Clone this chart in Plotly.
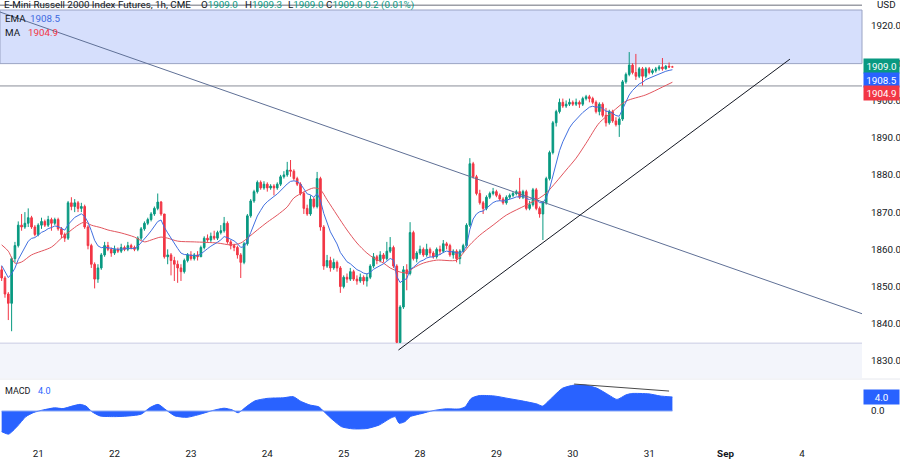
import plotly.graph_objects as go

# ---------------- data ----------------
day_ticks = [11, 34, 57, 80, 103, 126, 149, 172, 195, 218, 241]
day_labels = ['21', '22', '23', '24', '25', '28', '29', '30', '31', '<b>Sep</b>', '4']
price_ticks = [1830, 1840, 1850, 1860, 1870, 1880, 1890, 1900, 1910, 1920]

first_open = 1854.5
closes = [
    1852.3, 1848.0, 1845.5, 1857.5, 1861.0, 1866.5, 1866.0, 1867.0, 1868.5, 1866.0,
    1864.0, 1866.5, 1867.5, 1866.5, 1868.0, 1867.0, 1868.0, 1865.5, 1864.0, 1863.0,
    1872.5, 1871.5, 1872.5, 1871.0, 1871.5, 1866.0, 1861.0, 1856.0, 1852.0, 1855.0,
    1858.5, 1861.0, 1860.0, 1859.0, 1860.0, 1859.5, 1860.5, 1860.0, 1861.0, 1860.5,
    1860.0, 1863.0, 1865.5, 1867.0, 1868.0, 1869.5, 1871.0, 1872.7, 1869.5, 1858.0,
    1858.5, 1857.0, 1856.0, 1855.0, 1854.0, 1857.0, 1858.5, 1857.5, 1858.5, 1858.0,
    1860.5, 1863.0, 1862.5, 1863.5, 1863.0, 1864.5, 1865.0, 1867.0, 1862.0, 1861.0,
    1860.5, 1858.5, 1856.5, 1861.5, 1869.0, 1873.0, 1875.5, 1878.0, 1876.5, 1877.5,
    1876.5, 1877.0, 1876.5, 1877.5, 1879.5, 1880.0, 1881.3, 1881.0, 1879.0, 1877.5,
    1875.0, 1871.0, 1869.5, 1873.5, 1871.5, 1879.0, 1866.0, 1855.5, 1857.0, 1855.0,
    1856.5, 1855.0, 1850.0, 1852.5, 1852.0, 1854.0, 1852.0, 1851.5, 1852.5, 1851.5,
    1852.5, 1855.5, 1858.0, 1857.0, 1858.5, 1857.5, 1859.5, 1860.5, 1855.5, 1835.0,
    1844.5, 1854.5, 1853.5, 1864.5, 1857.5, 1859.0, 1860.0, 1858.5, 1860.0, 1859.0,
    1858.0, 1860.0, 1859.5, 1861.5, 1861.0, 1858.5, 1859.5, 1857.5, 1859.5, 1861.0,
    1866.5, 1883.0, 1879.5, 1875.0, 1872.5, 1871.0, 1874.0, 1875.0, 1875.5, 1874.5,
    1873.5, 1872.5, 1874.0, 1874.5, 1875.0, 1875.5, 1874.0, 1875.5, 1871.0, 1872.0,
    1876.0, 1871.0, 1869.5, 1872.5, 1879.0, 1886.0, 1894.0, 1897.0, 1899.5, 1898.5,
    1899.0, 1899.5, 1899.0, 1899.5, 1899.0, 1900.5, 1901.0, 1900.5, 1899.5, 1897.0,
    1899.0, 1896.0, 1894.0, 1897.0, 1894.5, 1893.5, 1895.0, 1905.0, 1907.0, 1909.5,
    1907.5, 1906.5, 1908.5, 1906.5, 1908.5, 1907.5, 1908.0, 1908.5, 1909.0, 1908.5,
    1909.2, 1909.0, 1909.0,
]
highs = [
    1855.5, 1852.8, 1848.5, 1858.0, 1862.0, 1867.5, 1869.5, 1870.0, 1871.0, 1869.0,
    1866.5, 1867.0, 1868.5, 1868.0, 1869.0, 1868.5, 1868.5, 1868.5, 1866.0, 1864.5,
    1873.0, 1874.0, 1873.5, 1873.0, 1872.5, 1872.0, 1866.5, 1861.5, 1856.5, 1856.0,
    1859.0, 1862.0, 1862.0, 1860.5, 1861.0, 1860.5, 1861.5, 1861.0, 1862.0, 1861.5,
    1861.0, 1863.5, 1866.0, 1867.5, 1868.5, 1870.0, 1871.5, 1875.0, 1873.0, 1869.5,
    1860.0, 1859.0, 1858.0, 1857.0, 1856.0, 1857.5, 1859.0, 1859.5, 1859.0, 1859.5,
    1861.0, 1863.5, 1864.0, 1864.5, 1865.0, 1865.0, 1866.5, 1868.7, 1867.5, 1862.5,
    1861.5, 1861.0, 1859.0, 1862.0, 1869.5, 1873.5, 1876.0, 1878.5, 1878.5, 1878.3,
    1878.0, 1877.5, 1877.5, 1878.0, 1880.0, 1881.0, 1883.5, 1884.0, 1881.5, 1879.5,
    1878.0, 1875.5, 1872.0, 1874.5, 1874.0, 1880.8, 1879.5, 1866.5, 1858.5, 1858.0,
    1857.5, 1857.0, 1855.5, 1853.0, 1853.5, 1855.0, 1854.5, 1853.0, 1853.5, 1853.0,
    1853.5, 1856.0, 1859.0, 1858.5, 1859.5, 1859.0, 1862.0, 1863.3, 1861.0, 1856.0,
    1845.0, 1855.5, 1856.0, 1867.3, 1865.0, 1859.5, 1861.0, 1860.5, 1861.5, 1860.5,
    1859.5, 1860.5, 1861.0, 1862.5, 1862.0, 1861.5, 1860.0, 1860.0, 1860.0, 1861.5,
    1867.0, 1884.5, 1883.5, 1880.0, 1876.0, 1873.0, 1874.5, 1875.5, 1876.5, 1876.0,
    1875.0, 1874.0, 1874.5, 1875.0, 1875.5, 1876.0, 1879.2, 1876.0, 1876.0, 1873.0,
    1876.5, 1876.5, 1871.5, 1873.0, 1879.5, 1886.5, 1894.5, 1897.5, 1900.5, 1900.5,
    1900.0, 1900.5, 1900.0, 1900.5, 1900.0, 1901.0, 1901.5, 1901.5, 1901.0, 1900.0,
    1899.5, 1899.5, 1898.0, 1897.5, 1897.5, 1895.5, 1895.5, 1905.5, 1907.5, 1913.0,
    1910.0, 1912.5, 1909.0, 1909.0, 1909.0, 1909.0, 1908.5, 1909.0, 1909.5, 1911.4,
    1909.5, 1910.2, 1909.3,
]
lows = [
    1851.5, 1847.0, 1841.0, 1838.0, 1856.5, 1860.5, 1865.0, 1865.5, 1866.0, 1865.5,
    1863.5, 1863.5, 1865.5, 1866.0, 1866.0, 1865.0, 1866.5, 1865.0, 1863.0, 1862.0,
    1862.5, 1870.5, 1870.0, 1870.0, 1870.0, 1865.5, 1860.0, 1855.0, 1849.5, 1851.0,
    1854.5, 1858.0, 1859.5, 1858.0, 1858.5, 1859.0, 1859.0, 1859.5, 1859.5, 1860.0,
    1859.5, 1859.5, 1862.5, 1865.0, 1866.5, 1867.5, 1869.0, 1870.5, 1869.0, 1857.5,
    1856.0, 1853.0, 1851.5, 1851.0, 1851.5, 1853.5, 1856.5, 1857.0, 1857.0, 1857.0,
    1858.0, 1860.0, 1862.0, 1862.0, 1862.5, 1862.5, 1864.0, 1864.5, 1861.5, 1860.0,
    1859.5, 1857.5, 1852.3, 1856.0, 1861.0, 1868.5, 1872.5, 1875.0, 1876.0, 1876.0,
    1875.5, 1876.0, 1874.5, 1876.0, 1877.0, 1879.0, 1879.5, 1879.5, 1878.5, 1877.0,
    1874.5, 1869.5, 1869.0, 1869.0, 1871.0, 1871.0, 1865.0, 1854.5, 1855.0, 1854.0,
    1854.5, 1854.0, 1848.3, 1849.5, 1851.0, 1851.5, 1851.5, 1850.5, 1851.0, 1850.5,
    1850.0, 1852.0, 1855.0, 1856.0, 1856.5, 1856.5, 1857.0, 1859.0, 1855.0, 1834.8,
    1834.8, 1844.0, 1849.0, 1853.0, 1857.0, 1856.5, 1858.5, 1858.0, 1858.0, 1858.0,
    1857.5, 1857.5, 1858.5, 1859.0, 1860.0, 1858.0, 1857.5, 1856.5, 1856.0, 1859.0,
    1860.5, 1866.0, 1879.0, 1874.5, 1872.0, 1869.5, 1870.5, 1873.5, 1874.5, 1874.0,
    1873.0, 1872.0, 1872.0, 1873.5, 1874.0, 1874.5, 1873.5, 1873.5, 1870.5, 1870.5,
    1871.5, 1870.5, 1868.5, 1862.5, 1872.0, 1878.5, 1885.5, 1893.0, 1896.5, 1898.0,
    1898.0, 1898.5, 1898.5, 1898.5, 1898.0, 1898.5, 1900.0, 1899.5, 1899.0, 1896.5,
    1896.0, 1895.5, 1893.0, 1893.5, 1894.0, 1893.0, 1890.2, 1894.5, 1904.5, 1906.5,
    1907.0, 1905.5, 1906.0, 1904.0, 1906.0, 1907.0, 1907.0, 1907.5, 1908.0, 1908.0,
    1908.3, 1908.7, 1909.0,
]

ema_len = 9
ema_seed = 1856.5
ema_label = 1908.5      # values printed by the chart's legend
ma_label = 1904.9
macd_label = 4.0
change_label = '0.2 (0.01%)'

# moving average (red) at bar positions
ma_bar = [0, 2, 4, 6, 9, 15, 18, 23, 25, 27, 30, 32, 36, 40, 43, 45, 48, 50, 53, 58,
          65, 69, 72, 74, 77, 80, 83, 86, 88, 91, 94, 96, 98, 101, 104, 107, 110, 112,
          115, 117, 120, 122, 124, 127, 131, 137, 139, 141, 144, 148, 152, 158, 162,
          164, 167, 170, 173, 176, 180, 184, 188, 194, 199, 202]
ma_val = [1861.2, 1859.5, 1856.3, 1856.6, 1858.5, 1860.6, 1863.0, 1866.5, 1867.3, 1866.5,
          1865.8, 1865.2, 1864.4, 1863.3, 1862.0, 1862.5, 1863.3, 1863.0, 1862.2, 1862.0,
          1861.7, 1861.2, 1861.7, 1863.0, 1865.2, 1867.3, 1869.2, 1871.4, 1873.8, 1875.4,
          1876.5, 1876.0, 1873.3, 1869.2, 1865.2, 1861.7, 1859.0, 1857.7, 1856.3, 1855.0,
          1853.9, 1853.7, 1855.0, 1856.3, 1857.1, 1857.1, 1859.0, 1861.2, 1863.8, 1866.5,
          1869.2, 1871.9, 1873.8, 1875.1, 1878.1, 1881.3, 1884.5, 1888.5, 1894.0, 1897.0,
          1899.8, 1901.5, 1903.6, 1904.9]

# MACD pane
macd_bar = [0, 2.1, 4.6, 7.3, 9.7, 12.5, 15.9, 18.5, 21.2, 23.6, 25.4, 27.2, 29.6, 34.1,
            38.4, 42, 44.7, 47.1, 49.5, 52.2, 55.8, 59.1, 63.4, 67, 69.5, 71.2, 73.9, 76.3,
            79.9, 85, 87.8, 90.2, 92.9, 95.5, 97.1, 99.8, 102.4, 105.8, 110, 113.7, 117,
            118.5, 119.7, 121.5, 123.1, 126.6, 129.9, 133.5, 137.8, 139.6, 141.4, 143.8,
            148.3, 152.5, 156.7, 161.2, 162.9, 165.5, 168.9, 172.4, 175.8, 179.3, 182.8,
            185.3, 188, 189.7, 194.9, 198.3, 202]
macd_val = [-5.9, -6.6, -4.5, -1.6, -0.4, 0.3, 0.9, 0.7, 1.4, 1.9, 1.4, -0.2, -1.4, -1.6,
            -1.4, -0.9, 1.0, 1.9, 0.3, -1.4, -1.8, -1.1, 0.1, 0.8, 0.3, -0.5, 1.4, 2.9,
            3.6, 3.8, 4.1, 2.7, 1.7, 1.2, -0.2, -2.6, -4.5, -5.1, -5.0, -4.0, -2.1,
            -1.6, -3.5, -3.0, -1.6, -0.7, 0.1, 0.6, 0.6, 1.2, 3.6, 4.4,
            4.3, 3.6, 2.9, 2.0, 1.4, 3.6, 6.5, 7.4, 7.4, 6.5, 4.6,
            3.3, 4.6, 5.0, 4.9, 4.3, 4.0]

# drawings (price-level objects)
desc_line = [(-0.5, 1923.76), (259.1, 1842.7)]
asc_line = [(119.5, 1832.95), (237.4, 1911.1)]
zone_top, zone_bottom = 1924.3, 1909.9
top_level = 1925.6
mid_level = 1903.9
low_level = 1834.8
macd_div = [(172.4, 7.7), (201.0, 5.7)]

# ---------------- derived ----------------
bars = list(range(len(closes)))
opens = [first_open] + closes[:-1]
highs = [max(h, o, c) for h, o, c in zip(highs, opens, closes)]
lows = [min(l, o, c) for l, o, c in zip(lows, opens, closes)]
alpha = 2.0 / (ema_len + 1)
ema, prev = [], ema_seed
for c in closes:
    prev = prev + alpha * (c - prev)
    ema.append(prev)

X_RANGE = [-0.5, 259.1]
Y_RANGE = [1825.43, 1926.99]
Y2_RANGE = [-8.57, 8.86]
GREEN, RED, BLUE = '#089981', '#f23645', '#2962ff'
TXT = '#131722'
FONT = 'Roboto, sans-serif'
PLOT_W, PLOT_H = 862, 441
FS = 9.8

fig = go.Figure()

fig.add_trace(go.Candlestick(
    x=bars, open=opens, high=highs, low=lows, close=closes,
    increasing=dict(line=dict(color=GREEN, width=1), fillcolor=GREEN),
    decreasing=dict(line=dict(color=RED, width=1), fillcolor=RED),
    whiskerwidth=0, hoverinfo='skip', showlegend=False, xaxis='x', yaxis='y'))

fig.add_trace(go.Scatter(x=ma_bar, y=ma_val, mode='lines',
                         line=dict(color='#e2555e', width=1, shape='spline', smoothing=0.8),
                         hoverinfo='skip', showlegend=False, xaxis='x', yaxis='y'))
fig.add_trace(go.Scatter(x=bars, y=ema, mode='lines',
                         line=dict(color='#4170e0', width=1),
                         hoverinfo='skip', showlegend=False, xaxis='x', yaxis='y'))

# trend lines
for pts, col in [(desc_line, '#5f7096'), (asc_line, '#131722')]:
    fig.add_trace(go.Scatter(x=[p[0] for p in pts], y=[p[1] for p in pts], mode='lines',
                             line=dict(color=col, width=1), hoverinfo='skip',
                             showlegend=False, xaxis='x', yaxis='y'))

# MACD
fig.add_trace(go.Scatter(x=macd_bar, y=macd_val, mode='lines', fill='tozeroy',
                         fillcolor=BLUE, line=dict(color=BLUE, width=1, shape='spline', smoothing=0.6),
                         hoverinfo='skip', showlegend=False, xaxis='x2', yaxis='y2'))
fig.add_trace(go.Scatter(x=[bars[0], bars[-1]], y=[0, 0], mode='lines',
                         line=dict(color='#8aa8f5', width=1), hoverinfo='skip',
                         showlegend=False, xaxis='x2', yaxis='y2'))
fig.add_trace(go.Scatter(x=[p[0] for p in macd_div], y=[p[1] for p in macd_div], mode='lines',
                         line=dict(color='#4a4a4a', width=1), hoverinfo='skip',
                         showlegend=False, xaxis='x2', yaxis='y2'))

shapes = [
    dict(type='rect', xref='paper', yref='y', x0=0, x1=1, y0=zone_bottom, y1=zone_top,
         fillcolor='#d6dffc', line=dict(color='#9aa3c4', width=1), layer='below'),
    dict(type='line', xref='paper', yref='y', x0=0, x1=1, y0=top_level, y1=top_level,
         line=dict(color='#6a6d78', width=1), layer='below'),
    dict(type='line', xref='paper', yref='y', x0=0, x1=1, y0=mid_level, y1=mid_level,
         line=dict(color='#8a8d98', width=1), layer='below'),
    dict(type='rect', xref='paper', yref='y', x0=0, x1=1, y0=Y_RANGE[0], y1=low_level,
         fillcolor='#f3f5fb', line=dict(width=0), layer='below'),
    dict(type='line', xref='paper', yref='y', x0=0, x1=1, y0=low_level, y1=low_level,
         line=dict(color='#c8cbe3', width=1), layer='below'),
    dict(type='line', xref='paper', yref='paper', x0=0, x1=1.05, y0=1 - 379 / PLOT_H, y1=1 - 379 / PLOT_H,
         line=dict(color='#e6e8ee', width=1), layer='below'),
]

def px_x(px):
    return px / PLOT_W

def px_y(py):
    return 1 - py / PLOT_H

ann = []
def txt(px, py, text, color=TXT, size=FS):
    ann.append(dict(xref='paper', yref='paper', x=px_x(px), y=px_y(py), xanchor='left',
                    yanchor='middle', text=text, showarrow=False, borderpad=0,
                    font=dict(family=FONT, size=size, color=color)))

txt(3, 5, 'E-Mini Russell 2000 Index Futures, 1h, CME')
txt(200, 5, f"O<span style='color:{GREEN}'>{opens[-1]:.1f}</span>")
txt(244, 5, f"H<span style='color:{GREEN}'>{highs[-1]:.1f}</span>")
txt(287, 5, f"L<span style='color:{GREEN}'>{lows[-1]:.1f}</span>")
txt(325, 5, f"C<span style='color:{GREEN}'>{closes[-1]:.1f}</span>")
txt(364, 5, change_label, color=GREEN)
txt(4, 18, 'EMA')
txt(29, 18, f'{ema_label:.1f}', color='#3d6ae0')
txt(4, 32, 'MA')
txt(27, 32, f'{ma_label:.1f}', color=RED)
txt(4, 391, 'MACD', size=9)
txt(37, 391, f'{macd_label:.1f}', color=BLUE, size=9)
txt(876, 5, 'USD')

def tag(py, text, bg):
    ann.append(dict(xref='paper', yref='paper', x=1, y=px_y(py), xanchor='left', yanchor='middle',
                    xshift=1, text=text, showarrow=False, bgcolor=bg,
                    width=33, height=12, borderpad=1, align='center',
                    font=dict(family=FONT, size=FS, color='white')))

tag(66, f'{closes[-1]:.1f}', GREEN)
tag(80, f'{ema_label:.1f}', BLUE)
tag(93, f'{ma_label:.1f}', RED)
tag(397, f'{macd_label:.1f}', BLUE)

fig.update_layout(
    width=900, height=461, margin=dict(l=0, r=38, t=0, b=20, autoexpand=False),
    paper_bgcolor='white', plot_bgcolor='white', showlegend=False,
    font=dict(family=FONT, size=FS, color=TXT),
    shapes=shapes, annotations=ann, hovermode=False,
    xaxis=dict(domain=[0, 1], range=X_RANGE, anchor='y', showticklabels=False,
               showgrid=False, zeroline=False, showline=False, rangeslider=dict(visible=False),
               fixedrange=True, automargin=False),
    xaxis2=dict(domain=[0, 1], range=X_RANGE, anchor='y2', matches='x',
                tickmode='array', tickvals=day_ticks, ticktext=day_labels,
                showgrid=False, zeroline=False, showline=False,
                ticks='outside', ticklen=3, tickcolor='rgba(0,0,0,0)',
                tickfont=dict(family=FONT, size=FS, color=TXT), fixedrange=True,
                automargin=False),
    yaxis=dict(domain=[1 - 378 / PLOT_H, 1], range=Y_RANGE, side='right',
               tickmode='array', tickvals=price_ticks,
               ticktext=[f'{v:.1f}' for v in price_ticks],
               showgrid=False, zeroline=False, showline=False,
               ticks='outside', ticklen=6, tickcolor='rgba(0,0,0,0)',
               tickfont=dict(family=FONT, size=FS, color=TXT), fixedrange=True,
               automargin=False),
    yaxis2=dict(domain=[0, 1 - 380 / PLOT_H], range=Y2_RANGE, side='right',
                tickmode='array', tickvals=[0], ticktext=['0.0'],
                showgrid=False, zeroline=False, showline=False,
                ticks='outside', ticklen=6, tickcolor='rgba(0,0,0,0)',
                tickfont=dict(family=FONT, size=FS, color=TXT), fixedrange=True,
                automargin=False),
)

fig.write_html('out.html', post_script="document.body.style.margin='0';",
               config={'displayModeBar': False})
